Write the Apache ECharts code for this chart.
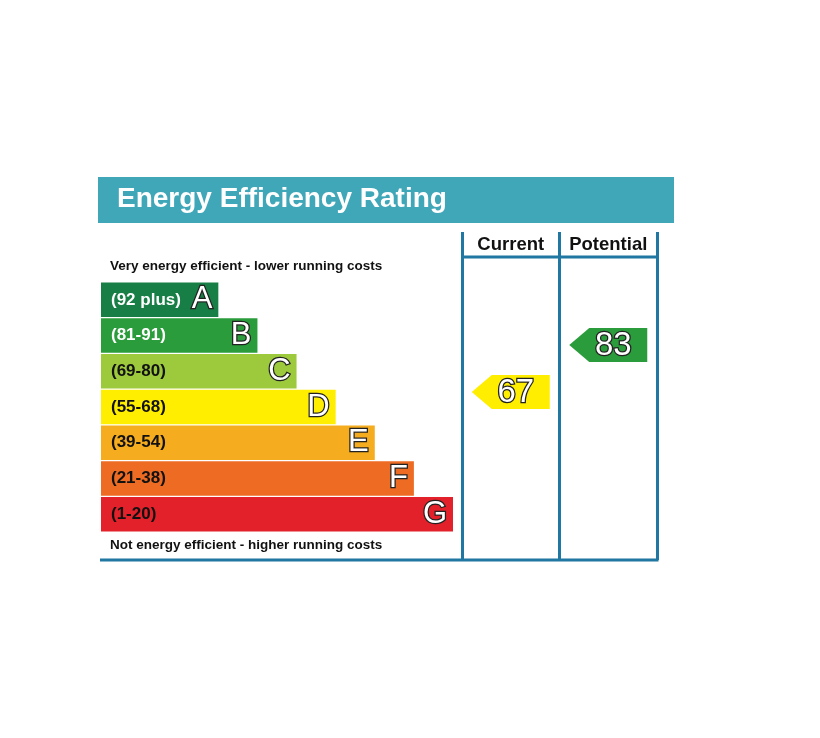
<!DOCTYPE html>
<html>
<head>
<meta charset="utf-8">
<script src="https://cdn.jsdelivr.net/npm/echarts@6/dist/echarts.min.js"></script>
<style>html,body{margin:0;background:#fff}#chart{width:820px;height:738px}</style>
</head>
<body>
<div id="chart"></div>
<script>
// bands, top (most efficient) to bottom
var bandLetters = ['A', 'B', 'C', 'D', 'E', 'F', 'G'];
var bandRanges = ['(92 plus)', '(81-91)', '(69-80)', '(55-68)', '(39-54)', '(21-38)', '(1-20)'];
var bandMins = [92, 81, 69, 55, 39, 21, 1];
var bandLengths = [3, 4, 5, 6, 7, 8, 9];
// ratings
var columns = ['Current', 'Potential'];
var ratings = [67, 83];

var bandColors = ['#177f45', '#2a9c3b', '#9dc93d', '#ffee00', '#f5ac1f', '#ed6b23', '#e2212a'];
var rangeTextColors = ['#fff', '#fff', '#111', '#111', '#111', '#111', '#111'];
var lineColor = '#1f77a2';
var font = '"Liberation Sans", Arial, sans-serif';

function bandOf(v) {
  for (var i = 0; i < bandMins.length; i++) {
    if (v >= bandMins[i]) return i;
  }
  return bandMins.length - 1;
}

var barData = bandLengths.map(function (v, i) {
  return {
    value: v,
    itemStyle: { color: bandColors[i] },
    label: { color: rangeTextColors[i] }
  };
});

var arrowData = columns.map(function (c, i) {
  return {
    value: [c, ratings[i]],
    itemStyle: { color: bandColors[bandOf(ratings[i])] }
  };
});

var chart = echarts.init(document.getElementById('chart'));
chart.setOption({
  backgroundColor: '#fff',
  animation: false,
  grid: [
    { left: 101, top: 282, width: 352, height: 250 },
    { left: 462, top: 232, width: 195, height: 328 }
  ],
  xAxis: [
    { gridIndex: 0, type: 'value', min: 0, max: 9, show: false },
    {
      gridIndex: 1, type: 'category', data: columns, position: 'top',
      axisLine: { show: false }, axisTick: { show: false },
      axisLabel: {
        inside: true, margin: 3, interval: 0, color: '#111', fontSize: 18.5,
        fontWeight: 'bold', fontFamily: font
      },
      splitLine: { show: true, interval: 0, lineStyle: { color: lineColor, width: 3 } }
    }
  ],
  yAxis: [
    { gridIndex: 0, type: 'category', data: bandLetters, inverse: true, show: false },
    { gridIndex: 1, type: 'value', min: 9.8, max: 121.5, show: false }
  ],
  series: [
    {
      type: 'bar', xAxisIndex: 0, yAxisIndex: 0, barWidth: 34.5,
      data: barData,
      label: {
        show: true, position: 'insideLeft', distance: 10,
        formatter: function (p) { return bandRanges[p.dataIndex]; },
        fontSize: 17, fontWeight: 'bold', fontFamily: font
      }
    },
    {
      type: 'bar', xAxisIndex: 0, yAxisIndex: 0, barWidth: 34.5, barGap: '-100%',
      data: bandLengths,
      itemStyle: { color: 'rgba(0,0,0,0)' },
      label: {
        show: true, position: 'insideRight', distance: 6,
        formatter: function (p) { return bandLetters[p.dataIndex]; },
        fontSize: 31, color: '#fff', textBorderColor: '#222', textBorderWidth: 2.5,
        fontFamily: font
      }
    },
    {
      type: 'scatter', xAxisIndex: 1, yAxisIndex: 1,
      symbol: 'path://M0,17L20,0L78,0L78,34L20,34Z',
      symbolSize: [78, 34],
      itemStyle: { opacity: 1 },
      data: arrowData,
      label: {
        show: true, position: 'inside', offset: [5, 1],
        formatter: function (p) { return p.value[1]; },
        fontSize: 33, color: '#fff', textBorderColor: '#222', textBorderWidth: 2.5,
        fontFamily: font
      }
    }
  ],
  graphic: [
    { type: 'rect', shape: { x: 98, y: 177, width: 576, height: 46 }, style: { fill: '#40a7b9' } },
    {
      type: 'text', x: 117, y: 199,
      style: { text: 'Energy Efficiency Rating', fill: '#fff', font: 'bold 28px ' + font, verticalAlign: 'middle' }
    },
    {
      type: 'text', x: 110, y: 266,
      style: { text: 'Very energy efficient - lower running costs', fill: '#111', font: 'bold 13.5px ' + font, verticalAlign: 'middle' }
    },
    {
      type: 'text', x: 110, y: 545,
      style: { text: 'Not energy efficient - higher running costs', fill: '#111', font: 'bold 13.5px ' + font, verticalAlign: 'middle' }
    },
    { type: 'line', shape: { x1: 462, y1: 257, x2: 657, y2: 257 }, style: { stroke: lineColor, lineWidth: 3 } },
    { type: 'line', shape: { x1: 100, y1: 560, x2: 658.5, y2: 560 }, style: { stroke: lineColor, lineWidth: 3 } }
  ]
});
</script>
</body>
</html>
